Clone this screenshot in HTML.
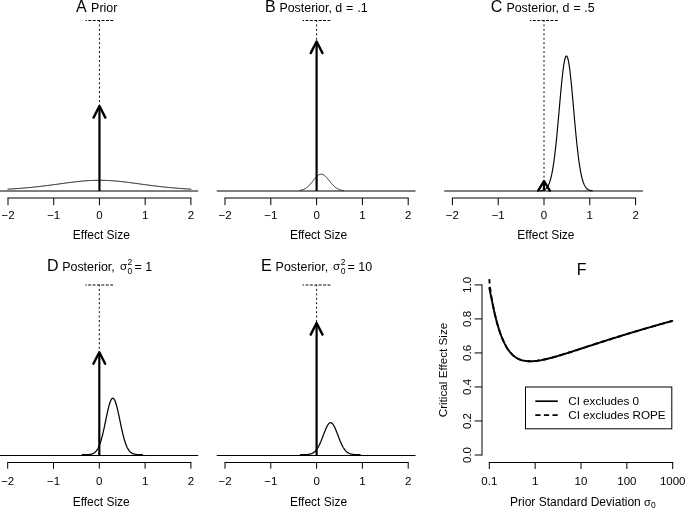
<!DOCTYPE html>
<html><head><meta charset="utf-8"><style>
html,body{margin:0;padding:0;background:#fff;}
body{width:685px;height:508px;overflow:hidden;font-family:"Liberation Sans",sans-serif;}
svg{display:block;will-change:transform;}
</style></head><body>
<svg width="685" height="508" viewBox="0 0 685 508" font-family="Liberation Sans, sans-serif" fill="#000">
<line x1="-0.22" y1="191" x2="198.21" y2="191" stroke="#000" stroke-width="1" stroke-linecap="butt"/>
<line x1="8.01" y1="198" x2="190.89" y2="198" stroke="#000" stroke-width="1" stroke-linecap="square"/>
<line x1="8.01" y1="198" x2="8.01" y2="205.2" stroke="#000" stroke-width="1" stroke-linecap="butt"/>
<text x="8.01" y="218.9" font-size="11.5" text-anchor="middle">−2</text>
<line x1="53.73" y1="198" x2="53.73" y2="205.2" stroke="#000" stroke-width="1" stroke-linecap="butt"/>
<text x="53.73" y="218.9" font-size="11.5" text-anchor="middle">−1</text>
<line x1="99.45" y1="198" x2="99.45" y2="205.2" stroke="#000" stroke-width="1" stroke-linecap="butt"/>
<text x="99.45" y="218.9" font-size="11.5" text-anchor="middle">0</text>
<line x1="145.17" y1="198" x2="145.17" y2="205.2" stroke="#000" stroke-width="1" stroke-linecap="butt"/>
<text x="145.17" y="218.9" font-size="11.5" text-anchor="middle">1</text>
<line x1="190.89" y1="198" x2="190.89" y2="205.2" stroke="#000" stroke-width="1" stroke-linecap="butt"/>
<text x="190.89" y="218.9" font-size="11.5" text-anchor="middle">2</text>
<text x="101.35" y="238.6" font-size="12" text-anchor="middle">Effect Size</text>
<path d="M8.01,189.15 L8.47,189.12 L8.92,189.1 L9.38,189.07 L9.84,189.04 L10.3,189.02 L10.75,188.99 L11.21,188.96 L11.67,188.93 L12.12,188.9 L12.58,188.88 L13.04,188.85 L13.5,188.82 L13.95,188.79 L14.41,188.76 L14.87,188.73 L15.33,188.69 L15.78,188.66 L16.24,188.63 L16.7,188.6 L17.15,188.57 L17.61,188.53 L18.07,188.5 L18.53,188.47 L18.98,188.43 L19.44,188.4 L19.9,188.36 L20.35,188.33 L20.81,188.29 L21.27,188.26 L21.73,188.22 L22.18,188.18 L22.64,188.15 L23.1,188.11 L23.55,188.07 L24.01,188.03 L24.47,187.99 L24.93,187.96 L25.38,187.92 L25.84,187.88 L26.3,187.84 L26.76,187.79 L27.21,187.75 L27.67,187.71 L28.13,187.67 L28.58,187.63 L29.04,187.58 L29.5,187.54 L29.96,187.5 L30.41,187.45 L30.87,187.41 L31.33,187.36 L31.78,187.32 L32.24,187.27 L32.7,187.22 L33.16,187.18 L33.61,187.13 L34.07,187.08 L34.53,187.03 L34.98,186.99 L35.44,186.94 L35.9,186.89 L36.36,186.84 L36.81,186.79 L37.27,186.74 L37.73,186.69 L38.19,186.63 L38.64,186.58 L39.1,186.53 L39.56,186.48 L40.01,186.43 L40.47,186.37 L40.93,186.32 L41.39,186.26 L41.84,186.21 L42.3,186.16 L42.76,186.1 L43.21,186.04 L43.67,185.99 L44.13,185.93 L44.59,185.88 L45.04,185.82 L45.5,185.76 L45.96,185.7 L46.41,185.65 L46.87,185.59 L47.33,185.53 L47.79,185.47 L48.24,185.41 L48.7,185.35 L49.16,185.29 L49.62,185.23 L50.07,185.17 L50.53,185.11 L50.99,185.05 L51.44,184.99 L51.9,184.93 L52.36,184.87 L52.82,184.81 L53.27,184.75 L53.73,184.69 L54.19,184.62 L54.64,184.56 L55.1,184.5 L55.56,184.44 L56.02,184.37 L56.47,184.31 L56.93,184.25 L57.39,184.19 L57.84,184.12 L58.3,184.06 L58.76,184 L59.22,183.94 L59.67,183.87 L60.13,183.81 L60.59,183.75 L61.05,183.68 L61.5,183.62 L61.96,183.56 L62.42,183.5 L62.87,183.43 L63.33,183.37 L63.79,183.31 L64.25,183.25 L64.7,183.18 L65.16,183.12 L65.62,183.06 L66.07,183 L66.53,182.94 L66.99,182.88 L67.45,182.82 L67.9,182.76 L68.36,182.7 L68.82,182.64 L69.27,182.58 L69.73,182.52 L70.19,182.46 L70.65,182.4 L71.1,182.35 L71.56,182.29 L72.02,182.23 L72.48,182.18 L72.93,182.12 L73.39,182.06 L73.85,182.01 L74.3,181.96 L74.76,181.9 L75.22,181.85 L75.68,181.8 L76.13,181.74 L76.59,181.69 L77.05,181.64 L77.5,181.59 L77.96,181.54 L78.42,181.49 L78.88,181.45 L79.33,181.4 L79.79,181.35 L80.25,181.31 L80.7,181.26 L81.16,181.22 L81.62,181.18 L82.08,181.13 L82.53,181.09 L82.99,181.05 L83.45,181.01 L83.91,180.98 L84.36,180.94 L84.82,180.9 L85.28,180.87 L85.73,180.83 L86.19,180.8 L86.65,180.76 L87.11,180.73 L87.56,180.7 L88.02,180.67 L88.48,180.64 L88.93,180.62 L89.39,180.59 L89.85,180.56 L90.31,180.54 L90.76,180.52 L91.22,180.49 L91.68,180.47 L92.13,180.45 L92.59,180.44 L93.05,180.42 L93.51,180.4 L93.96,180.39 L94.42,180.37 L94.88,180.36 L95.34,180.35 L95.79,180.34 L96.25,180.33 L96.71,180.32 L97.16,180.32 L97.62,180.31 L98.08,180.31 L98.54,180.3 L98.99,180.3 L99.45,180.3 L99.91,180.3 L100.36,180.3 L100.82,180.31 L101.28,180.31 L101.74,180.32 L102.19,180.32 L102.65,180.33 L103.11,180.34 L103.56,180.35 L104.02,180.36 L104.48,180.37 L104.94,180.39 L105.39,180.4 L105.85,180.42 L106.31,180.44 L106.77,180.45 L107.22,180.47 L107.68,180.49 L108.14,180.52 L108.59,180.54 L109.05,180.56 L109.51,180.59 L109.97,180.62 L110.42,180.64 L110.88,180.67 L111.34,180.7 L111.79,180.73 L112.25,180.76 L112.71,180.8 L113.17,180.83 L113.62,180.87 L114.08,180.9 L114.54,180.94 L114.99,180.98 L115.45,181.01 L115.91,181.05 L116.37,181.09 L116.82,181.13 L117.28,181.18 L117.74,181.22 L118.2,181.26 L118.65,181.31 L119.11,181.35 L119.57,181.4 L120.02,181.45 L120.48,181.49 L120.94,181.54 L121.4,181.59 L121.85,181.64 L122.31,181.69 L122.77,181.74 L123.22,181.8 L123.68,181.85 L124.14,181.9 L124.6,181.96 L125.05,182.01 L125.51,182.06 L125.97,182.12 L126.42,182.18 L126.88,182.23 L127.34,182.29 L127.8,182.35 L128.25,182.4 L128.71,182.46 L129.17,182.52 L129.63,182.58 L130.08,182.64 L130.54,182.7 L131,182.76 L131.45,182.82 L131.91,182.88 L132.37,182.94 L132.83,183 L133.28,183.06 L133.74,183.12 L134.2,183.18 L134.65,183.25 L135.11,183.31 L135.57,183.37 L136.03,183.43 L136.48,183.5 L136.94,183.56 L137.4,183.62 L137.85,183.68 L138.31,183.75 L138.77,183.81 L139.23,183.87 L139.68,183.94 L140.14,184 L140.6,184.06 L141.06,184.12 L141.51,184.19 L141.97,184.25 L142.43,184.31 L142.88,184.37 L143.34,184.44 L143.8,184.5 L144.26,184.56 L144.71,184.62 L145.17,184.69 L145.63,184.75 L146.08,184.81 L146.54,184.87 L147,184.93 L147.46,184.99 L147.91,185.05 L148.37,185.11 L148.83,185.17 L149.28,185.23 L149.74,185.29 L150.2,185.35 L150.66,185.41 L151.11,185.47 L151.57,185.53 L152.03,185.59 L152.49,185.65 L152.94,185.7 L153.4,185.76 L153.86,185.82 L154.31,185.88 L154.77,185.93 L155.23,185.99 L155.69,186.04 L156.14,186.1 L156.6,186.16 L157.06,186.21 L157.51,186.26 L157.97,186.32 L158.43,186.37 L158.89,186.43 L159.34,186.48 L159.8,186.53 L160.26,186.58 L160.71,186.63 L161.17,186.69 L161.63,186.74 L162.09,186.79 L162.54,186.84 L163,186.89 L163.46,186.94 L163.92,186.99 L164.37,187.03 L164.83,187.08 L165.29,187.13 L165.74,187.18 L166.2,187.22 L166.66,187.27 L167.12,187.32 L167.57,187.36 L168.03,187.41 L168.49,187.45 L168.94,187.5 L169.4,187.54 L169.86,187.58 L170.32,187.63 L170.77,187.67 L171.23,187.71 L171.69,187.75 L172.14,187.79 L172.6,187.84 L173.06,187.88 L173.52,187.92 L173.97,187.96 L174.43,187.99 L174.89,188.03 L175.35,188.07 L175.8,188.11 L176.26,188.15 L176.72,188.18 L177.17,188.22 L177.63,188.26 L178.09,188.29 L178.55,188.33 L179,188.36 L179.46,188.4 L179.92,188.43 L180.37,188.47 L180.83,188.5 L181.29,188.53 L181.75,188.57 L182.2,188.6 L182.66,188.63 L183.12,188.66 L183.57,188.69 L184.03,188.73 L184.49,188.76 L184.95,188.79 L185.4,188.82 L185.86,188.85 L186.32,188.88 L186.78,188.9 L187.23,188.93 L187.69,188.96 L188.15,188.99 L188.6,189.02 L189.06,189.04 L189.52,189.07 L189.98,189.1 L190.43,189.12 L190.89,189.15" fill="none" stroke="#000" stroke-width="1" stroke-linejoin="round" stroke-linecap="round"/>
<line x1="99.45" y1="20.5" x2="99.45" y2="105.8" stroke="#000" stroke-width="1" stroke-dasharray="1.9 2.55" stroke-dashoffset="0.5"/>
<line x1="113.25" y1="20.5" x2="85.55" y2="20.5" stroke="#000" stroke-width="1" stroke-linecap="butt" stroke-dasharray="2.9 1.5"/>
<line x1="99.45" y1="191" x2="99.45" y2="106.3" stroke="#000" stroke-width="2.2" stroke-linecap="butt"/>
<path d="M93.55,117.6 L99.45,106 L105.35,117.6" fill="none" stroke="#000" stroke-width="2.4" stroke-linejoin="round" stroke-linecap="round"/>
<line x1="216.76" y1="191" x2="415.53" y2="191" stroke="#000" stroke-width="1" stroke-linecap="butt"/>
<line x1="225" y1="198" x2="408.2" y2="198" stroke="#000" stroke-width="1" stroke-linecap="square"/>
<line x1="225" y1="198" x2="225" y2="205.2" stroke="#000" stroke-width="1" stroke-linecap="butt"/>
<text x="225" y="218.9" font-size="11.5" text-anchor="middle">−2</text>
<line x1="270.8" y1="198" x2="270.8" y2="205.2" stroke="#000" stroke-width="1" stroke-linecap="butt"/>
<text x="270.8" y="218.9" font-size="11.5" text-anchor="middle">−1</text>
<line x1="316.6" y1="198" x2="316.6" y2="205.2" stroke="#000" stroke-width="1" stroke-linecap="butt"/>
<text x="316.6" y="218.9" font-size="11.5" text-anchor="middle">0</text>
<line x1="362.4" y1="198" x2="362.4" y2="205.2" stroke="#000" stroke-width="1" stroke-linecap="butt"/>
<text x="362.4" y="218.9" font-size="11.5" text-anchor="middle">1</text>
<line x1="408.2" y1="198" x2="408.2" y2="205.2" stroke="#000" stroke-width="1" stroke-linecap="butt"/>
<text x="408.2" y="218.9" font-size="11.5" text-anchor="middle">2</text>
<text x="318.5" y="238.6" font-size="12" text-anchor="middle">Effect Size</text>
<path d="M300.1,190.41 L300.21,190.39 L300.32,190.36 L300.42,190.34 L300.53,190.32 L300.64,190.3 L300.75,190.27 L300.86,190.25 L300.97,190.22 L301.07,190.2 L301.18,190.17 L301.29,190.14 L301.4,190.12 L301.51,190.09 L301.62,190.06 L301.72,190.03 L301.83,189.99 L301.94,189.96 L302.05,189.93 L302.16,189.9 L302.27,189.86 L302.37,189.83 L302.48,189.79 L302.59,189.75 L302.7,189.71 L302.81,189.67 L302.91,189.63 L303.02,189.59 L303.13,189.55 L303.24,189.51 L303.35,189.46 L303.46,189.42 L303.56,189.37 L303.67,189.33 L303.78,189.28 L303.89,189.23 L304,189.18 L304.11,189.13 L304.21,189.07 L304.32,189.02 L304.43,188.96 L304.54,188.91 L304.65,188.85 L304.75,188.79 L304.86,188.73 L304.97,188.67 L305.08,188.61 L305.19,188.55 L305.3,188.48 L305.4,188.42 L305.51,188.35 L305.62,188.28 L305.73,188.21 L305.84,188.14 L305.95,188.07 L306.05,188 L306.16,187.92 L306.27,187.85 L306.38,187.77 L306.49,187.69 L306.6,187.61 L306.7,187.53 L306.81,187.45 L306.92,187.36 L307.03,187.28 L307.14,187.19 L307.24,187.1 L307.35,187.01 L307.46,186.92 L307.57,186.83 L307.68,186.74 L307.79,186.64 L307.89,186.55 L308,186.45 L308.11,186.35 L308.22,186.25 L308.33,186.15 L308.44,186.05 L308.54,185.95 L308.65,185.84 L308.76,185.74 L308.87,185.63 L308.98,185.52 L309.08,185.41 L309.19,185.3 L309.3,185.19 L309.41,185.08 L309.52,184.96 L309.63,184.85 L309.73,184.73 L309.84,184.61 L309.95,184.49 L310.06,184.37 L310.17,184.25 L310.28,184.13 L310.38,184.01 L310.49,183.89 L310.6,183.76 L310.71,183.64 L310.82,183.51 L310.93,183.38 L311.03,183.26 L311.14,183.13 L311.25,183 L311.36,182.87 L311.47,182.74 L311.57,182.61 L311.68,182.48 L311.79,182.34 L311.9,182.21 L312.01,182.08 L312.12,181.95 L312.22,181.81 L312.33,181.68 L312.44,181.54 L312.55,181.41 L312.66,181.27 L312.77,181.14 L312.87,181 L312.98,180.87 L313.09,180.73 L313.2,180.6 L313.31,180.46 L313.41,180.33 L313.52,180.19 L313.63,180.06 L313.74,179.92 L313.85,179.79 L313.96,179.66 L314.06,179.52 L314.17,179.39 L314.28,179.26 L314.39,179.13 L314.5,178.99 L314.61,178.86 L314.71,178.73 L314.82,178.61 L314.93,178.48 L315.04,178.35 L315.15,178.22 L315.25,178.1 L315.36,177.98 L315.47,177.85 L315.58,177.73 L315.69,177.61 L315.8,177.49 L315.9,177.37 L316.01,177.26 L316.12,177.14 L316.23,177.03 L316.34,176.92 L316.45,176.81 L316.55,176.7 L316.66,176.59 L316.77,176.49 L316.88,176.38 L316.99,176.28 L317.1,176.18 L317.2,176.08 L317.31,175.99 L317.42,175.9 L317.53,175.8 L317.64,175.71 L317.74,175.63 L317.85,175.54 L317.96,175.46 L318.07,175.38 L318.18,175.3 L318.29,175.23 L318.39,175.15 L318.5,175.08 L318.61,175.01 L318.72,174.95 L318.83,174.89 L318.94,174.82 L319.04,174.77 L319.15,174.71 L319.26,174.66 L319.37,174.61 L319.48,174.56 L319.58,174.52 L319.69,174.48 L319.8,174.44 L319.91,174.4 L320.02,174.37 L320.13,174.34 L320.23,174.31 L320.34,174.29 L320.45,174.27 L320.56,174.25 L320.67,174.23 L320.78,174.22 L320.88,174.21 L320.99,174.2 L321.1,174.2 L321.21,174.2 L321.32,174.2 L321.43,174.21 L321.53,174.22 L321.64,174.23 L321.75,174.24 L321.86,174.26 L321.97,174.28 L322.07,174.3 L322.18,174.33 L322.29,174.36 L322.4,174.39 L322.51,174.42 L322.62,174.46 L322.72,174.5 L322.83,174.54 L322.94,174.59 L323.05,174.64 L323.16,174.69 L323.27,174.74 L323.37,174.8 L323.48,174.86 L323.59,174.92 L323.7,174.98 L323.81,175.05 L323.92,175.12 L324.02,175.19 L324.13,175.27 L324.24,175.34 L324.35,175.42 L324.46,175.5 L324.56,175.59 L324.67,175.67 L324.78,175.76 L324.89,175.85 L325,175.94 L325.11,176.04 L325.21,176.14 L325.32,176.23 L325.43,176.34 L325.54,176.44 L325.65,176.54 L325.76,176.65 L325.86,176.76 L325.97,176.87 L326.08,176.98 L326.19,177.09 L326.3,177.2 L326.4,177.32 L326.51,177.44 L326.62,177.55 L326.73,177.67 L326.84,177.8 L326.95,177.92 L327.05,178.04 L327.16,178.17 L327.27,178.29 L327.38,178.42 L327.49,178.55 L327.6,178.67 L327.7,178.8 L327.81,178.93 L327.92,179.06 L328.03,179.19 L328.14,179.33 L328.25,179.46 L328.35,179.59 L328.46,179.73 L328.57,179.86 L328.68,179.99 L328.79,180.13 L328.89,180.26 L329,180.4 L329.11,180.53 L329.22,180.67 L329.33,180.8 L329.44,180.94 L329.54,181.07 L329.65,181.21 L329.76,181.34 L329.87,181.48 L329.98,181.61 L330.09,181.75 L330.19,181.88 L330.3,182.02 L330.41,182.15 L330.52,182.28 L330.63,182.41 L330.73,182.55 L330.84,182.68 L330.95,182.81 L331.06,182.94 L331.17,183.07 L331.28,183.2 L331.38,183.32 L331.49,183.45 L331.6,183.58 L331.71,183.7 L331.82,183.83 L331.93,183.95 L332.03,184.08 L332.14,184.2 L332.25,184.32 L332.36,184.44 L332.47,184.56 L332.57,184.67 L332.68,184.79 L332.79,184.91 L332.9,185.02 L333.01,185.14 L333.12,185.25 L333.22,185.36 L333.33,185.47 L333.44,185.58 L333.55,185.69 L333.66,185.79 L333.77,185.9 L333.87,186 L333.98,186.1 L334.09,186.21 L334.2,186.31 L334.31,186.4 L334.42,186.5 L334.52,186.6 L334.63,186.69 L334.74,186.79 L334.85,186.88 L334.96,186.97 L335.06,187.06 L335.17,187.15 L335.28,187.24 L335.39,187.32 L335.5,187.41 L335.61,187.49 L335.71,187.57 L335.82,187.65 L335.93,187.73 L336.04,187.81 L336.15,187.89 L336.26,187.96 L336.36,188.03 L336.47,188.11 L336.58,188.18 L336.69,188.25 L336.8,188.32 L336.9,188.39 L337.01,188.45 L337.12,188.52 L337.23,188.58 L337.34,188.64 L337.45,188.7 L337.55,188.76 L337.66,188.82 L337.77,188.88 L337.88,188.94 L337.99,188.99 L338.1,189.05 L338.2,189.1 L338.31,189.15 L338.42,189.2 L338.53,189.25 L338.64,189.3 L338.75,189.35 L338.85,189.4 L338.96,189.44 L339.07,189.49 L339.18,189.53 L339.29,189.57 L339.39,189.62 L339.5,189.66 L339.61,189.7 L339.72,189.73 L339.83,189.77 L339.94,189.81 L340.04,189.84 L340.15,189.88 L340.26,189.91 L340.37,189.95 L340.48,189.98 L340.59,190.01 L340.69,190.04 L340.8,190.07 L340.91,190.1 L341.02,190.13 L341.13,190.16 L341.23,190.18 L341.34,190.21 L341.45,190.24 L341.56,190.26 L341.67,190.29 L341.78,190.31 L341.88,190.33 L341.99,190.35 L342.1,190.38 L342.21,190.4 L342.32,190.42 L342.43,190.44 L342.53,190.46 L342.64,190.47 L342.75,190.49 L342.86,190.51 L342.97,190.53 L343.08,190.54 L343.18,190.56 L343.29,190.58 L343.4,190.59" fill="none" stroke="#000" stroke-width="1" stroke-linejoin="round" stroke-linecap="round"/>
<line x1="316.6" y1="20.5" x2="316.6" y2="41.3" stroke="#000" stroke-width="1" stroke-dasharray="1.9 2.55" stroke-dashoffset="0.5"/>
<line x1="330.4" y1="20.5" x2="302.7" y2="20.5" stroke="#000" stroke-width="1" stroke-linecap="butt" stroke-dasharray="2.9 1.5"/>
<line x1="316.6" y1="191" x2="316.6" y2="41.8" stroke="#000" stroke-width="2.2" stroke-linecap="butt"/>
<path d="M310.7,53.1 L316.6,41.5 L322.5,53.1" fill="none" stroke="#000" stroke-width="2.4" stroke-linejoin="round" stroke-linecap="round"/>
<line x1="444.16" y1="191" x2="642.93" y2="191" stroke="#000" stroke-width="1" stroke-linecap="butt"/>
<line x1="452.4" y1="198" x2="635.6" y2="198" stroke="#000" stroke-width="1" stroke-linecap="square"/>
<line x1="452.4" y1="198" x2="452.4" y2="205.2" stroke="#000" stroke-width="1" stroke-linecap="butt"/>
<text x="452.4" y="218.9" font-size="11.5" text-anchor="middle">−2</text>
<line x1="498.2" y1="198" x2="498.2" y2="205.2" stroke="#000" stroke-width="1" stroke-linecap="butt"/>
<text x="498.2" y="218.9" font-size="11.5" text-anchor="middle">−1</text>
<line x1="544" y1="198" x2="544" y2="205.2" stroke="#000" stroke-width="1" stroke-linecap="butt"/>
<text x="544" y="218.9" font-size="11.5" text-anchor="middle">0</text>
<line x1="589.8" y1="198" x2="589.8" y2="205.2" stroke="#000" stroke-width="1" stroke-linecap="butt"/>
<text x="589.8" y="218.9" font-size="11.5" text-anchor="middle">1</text>
<line x1="635.6" y1="198" x2="635.6" y2="205.2" stroke="#000" stroke-width="1" stroke-linecap="butt"/>
<text x="635.6" y="218.9" font-size="11.5" text-anchor="middle">2</text>
<text x="545.9" y="238.6" font-size="12" text-anchor="middle">Effect Size</text>
<path d="M540.5,190.8 L540.63,190.79 L540.76,190.77 L540.89,190.76 L541.02,190.74 L541.15,190.72 L541.28,190.7 L541.41,190.69 L541.54,190.66 L541.67,190.64 L541.79,190.62 L541.92,190.6 L542.05,190.57 L542.18,190.54 L542.31,190.52 L542.44,190.49 L542.57,190.45 L542.7,190.42 L542.83,190.38 L542.96,190.35 L543.09,190.31 L543.22,190.27 L543.35,190.22 L543.48,190.18 L543.61,190.13 L543.74,190.08 L543.87,190.02 L544,189.97 L544.13,189.91 L544.26,189.84 L544.38,189.78 L544.51,189.71 L544.64,189.64 L544.77,189.56 L544.9,189.48 L545.03,189.4 L545.16,189.31 L545.29,189.22 L545.42,189.12 L545.55,189.02 L545.68,188.91 L545.81,188.8 L545.94,188.68 L546.07,188.56 L546.2,188.43 L546.33,188.3 L546.46,188.16 L546.59,188.02 L546.72,187.87 L546.85,187.71 L546.98,187.54 L547.1,187.37 L547.23,187.19 L547.36,187 L547.49,186.81 L547.62,186.61 L547.75,186.39 L547.88,186.17 L548.01,185.95 L548.14,185.71 L548.27,185.46 L548.4,185.2 L548.53,184.94 L548.66,184.66 L548.79,184.37 L548.92,184.07 L549.05,183.76 L549.18,183.44 L549.31,183.11 L549.44,182.76 L549.56,182.41 L549.69,182.04 L549.82,181.66 L549.95,181.26 L550.08,180.85 L550.21,180.43 L550.34,179.99 L550.47,179.54 L550.6,179.07 L550.73,178.59 L550.86,178.1 L550.99,177.59 L551.12,177.06 L551.25,176.52 L551.38,175.96 L551.51,175.38 L551.64,174.79 L551.77,174.18 L551.9,173.55 L552.03,172.91 L552.15,172.25 L552.28,171.57 L552.41,170.87 L552.54,170.15 L552.67,169.42 L552.8,168.66 L552.93,167.89 L553.06,167.1 L553.19,166.29 L553.32,165.46 L553.45,164.61 L553.58,163.74 L553.71,162.85 L553.84,161.95 L553.97,161.02 L554.1,160.07 L554.23,159.11 L554.36,158.12 L554.49,157.12 L554.62,156.09 L554.75,155.05 L554.87,153.99 L555,152.9 L555.13,151.8 L555.26,150.68 L555.39,149.54 L555.52,148.39 L555.65,147.21 L555.78,146.02 L555.91,144.81 L556.04,143.59 L556.17,142.34 L556.3,141.08 L556.43,139.81 L556.56,138.51 L556.69,137.21 L556.82,135.89 L556.95,134.55 L557.08,133.2 L557.21,131.84 L557.34,130.46 L557.46,129.08 L557.59,127.68 L557.72,126.27 L557.85,124.85 L557.98,123.43 L558.11,121.99 L558.24,120.55 L558.37,119.1 L558.5,117.64 L558.63,116.18 L558.76,114.71 L558.89,113.24 L559.02,111.77 L559.15,110.3 L559.28,108.82 L559.41,107.35 L559.54,105.87 L559.67,104.4 L559.8,102.93 L559.92,101.47 L560.05,100.01 L560.18,98.56 L560.31,97.11 L560.44,95.68 L560.57,94.25 L560.7,92.83 L560.83,91.43 L560.96,90.04 L561.09,88.66 L561.22,87.29 L561.35,85.94 L561.48,84.61 L561.61,83.3 L561.74,82.01 L561.87,80.73 L562,79.48 L562.13,78.25 L562.26,77.04 L562.39,75.86 L562.51,74.7 L562.64,73.57 L562.77,72.47 L562.9,71.4 L563.03,70.35 L563.16,69.34 L563.29,68.35 L563.42,67.4 L563.55,66.48 L563.68,65.6 L563.81,64.75 L563.94,63.93 L564.07,63.15 L564.2,62.41 L564.33,61.71 L564.46,61.04 L564.59,60.42 L564.72,59.83 L564.85,59.28 L564.98,58.78 L565.11,58.31 L565.23,57.89 L565.36,57.51 L565.49,57.17 L565.62,56.87 L565.75,56.62 L565.88,56.41 L566.01,56.24 L566.14,56.12 L566.27,56.04 L566.4,56 L566.53,56.01 L566.66,56.06 L566.79,56.16 L566.92,56.3 L567.05,56.48 L567.18,56.7 L567.31,56.97 L567.44,57.28 L567.57,57.64 L567.69,58.03 L567.82,58.47 L567.95,58.95 L568.08,59.47 L568.21,60.03 L568.34,60.63 L568.47,61.27 L568.6,61.95 L568.73,62.67 L568.86,63.42 L568.99,64.22 L569.12,65.04 L569.25,65.9 L569.38,66.8 L569.51,67.73 L569.64,68.69 L569.77,69.69 L569.9,70.71 L570.03,71.77 L570.16,72.85 L570.28,73.97 L570.41,75.11 L570.54,76.27 L570.67,77.46 L570.8,78.68 L570.93,79.92 L571.06,81.18 L571.19,82.46 L571.32,83.76 L571.45,85.08 L571.58,86.42 L571.71,87.77 L571.84,89.14 L571.97,90.52 L572.1,91.92 L572.23,93.33 L572.36,94.75 L572.49,96.18 L572.62,97.62 L572.75,99.07 L572.88,100.52 L573,101.98 L573.13,103.45 L573.26,104.92 L573.39,106.39 L573.52,107.86 L573.65,109.34 L573.78,110.81 L573.91,112.29 L574.04,113.76 L574.17,115.23 L574.3,116.69 L574.43,118.15 L574.56,119.61 L574.69,121.05 L574.82,122.49 L574.95,123.93 L575.08,125.35 L575.21,126.77 L575.34,128.17 L575.46,129.57 L575.59,130.95 L575.72,132.32 L575.85,133.68 L575.98,135.02 L576.11,136.35 L576.24,137.67 L576.37,138.97 L576.5,140.26 L576.63,141.53 L576.76,142.78 L576.89,144.02 L577.02,145.24 L577.15,146.44 L577.28,147.63 L577.41,148.8 L577.54,149.95 L577.67,151.08 L577.8,152.19 L577.93,153.29 L578.05,154.36 L578.18,155.42 L578.31,156.45 L578.44,157.47 L578.57,158.47 L578.7,159.45 L578.83,160.41 L578.96,161.35 L579.09,162.27 L579.22,163.17 L579.35,164.05 L579.48,164.91 L579.61,165.75 L579.74,166.58 L579.87,167.38 L580,168.16 L580.13,168.93 L580.26,169.68 L580.39,170.41 L580.52,171.12 L580.64,171.81 L580.77,172.48 L580.9,173.14 L581.03,173.78 L581.16,174.4 L581.29,175 L581.42,175.59 L581.55,176.16 L581.68,176.71 L581.81,177.25 L581.94,177.77 L582.07,178.27 L582.2,178.76 L582.33,179.24 L582.46,179.7 L582.59,180.15 L582.72,180.58 L582.85,181 L582.98,181.4 L583.11,181.79 L583.23,182.17 L583.36,182.53 L583.49,182.89 L583.62,183.23 L583.75,183.56 L583.88,183.87 L584.01,184.18 L584.14,184.47 L584.27,184.76 L584.4,185.03 L584.53,185.29 L584.66,185.55 L584.79,185.79 L584.92,186.03 L585.05,186.25 L585.18,186.47 L585.31,186.68 L585.44,186.88 L585.57,187.07 L585.7,187.25 L585.82,187.43 L585.95,187.6 L586.08,187.76 L586.21,187.92 L586.34,188.07 L586.47,188.21 L586.6,188.35 L586.73,188.48 L586.86,188.6 L586.99,188.72 L587.12,188.84 L587.25,188.95 L587.38,189.05 L587.51,189.15 L587.64,189.25 L587.77,189.34 L587.9,189.43 L588.03,189.51 L588.16,189.59 L588.29,189.66 L588.41,189.73 L588.54,189.8 L588.67,189.87 L588.8,189.93 L588.93,189.99 L589.06,190.04 L589.19,190.09 L589.32,190.15 L589.45,190.19 L589.58,190.24 L589.71,190.28 L589.84,190.32 L589.97,190.36 L590.1,190.4 L590.23,190.43 L590.36,190.47 L590.49,190.5 L590.62,190.53 L590.75,190.55 L590.88,190.58 L591,190.61 L591.13,190.63 L591.26,190.65 L591.39,190.67 L591.52,190.69 L591.65,190.71 L591.78,190.73 L591.91,190.75 L592.04,190.76 L592.17,190.78 L592.3,190.79" fill="none" stroke="#000" stroke-width="1.15" stroke-linejoin="round" stroke-linecap="round"/>
<line x1="544" y1="20.5" x2="544" y2="180.8" stroke="#000" stroke-width="1" stroke-dasharray="1.9 2.55" stroke-dashoffset="0.5"/>
<line x1="557.8" y1="20.5" x2="530.1" y2="20.5" stroke="#000" stroke-width="1" stroke-linecap="butt" stroke-dasharray="2.9 1.5"/>
<line x1="544" y1="191" x2="544" y2="181.3" stroke="#000" stroke-width="2.2" stroke-linecap="butt"/>
<path d="M538.2,190.6 L544,181 L549.8,190.6" fill="none" stroke="#000" stroke-width="2.4" stroke-linejoin="round" stroke-linecap="round"/>
<line x1="-0.54" y1="455.5" x2="198.23" y2="455.5" stroke="#000" stroke-width="1" stroke-linecap="butt"/>
<line x1="7.7" y1="462.5" x2="190.9" y2="462.5" stroke="#000" stroke-width="1" stroke-linecap="square"/>
<line x1="7.7" y1="462.5" x2="7.7" y2="468.7" stroke="#000" stroke-width="1" stroke-linecap="butt"/>
<text x="7.7" y="485.4" font-size="11.5" text-anchor="middle">−2</text>
<line x1="53.5" y1="462.5" x2="53.5" y2="468.7" stroke="#000" stroke-width="1" stroke-linecap="butt"/>
<text x="53.5" y="485.4" font-size="11.5" text-anchor="middle">−1</text>
<line x1="99.3" y1="462.5" x2="99.3" y2="468.7" stroke="#000" stroke-width="1" stroke-linecap="butt"/>
<text x="99.3" y="485.4" font-size="11.5" text-anchor="middle">0</text>
<line x1="145.1" y1="462.5" x2="145.1" y2="468.7" stroke="#000" stroke-width="1" stroke-linecap="butt"/>
<text x="145.1" y="485.4" font-size="11.5" text-anchor="middle">1</text>
<line x1="190.9" y1="462.5" x2="190.9" y2="468.7" stroke="#000" stroke-width="1" stroke-linecap="butt"/>
<text x="190.9" y="485.4" font-size="11.5" text-anchor="middle">2</text>
<text x="101.2" y="506.4" font-size="12" text-anchor="middle">Effect Size</text>
<path d="M82.3,454.69 L82.45,454.69 L82.6,454.69 L82.75,454.69 L82.9,454.69 L83.05,454.69 L83.2,454.69 L83.35,454.69 L83.5,454.69 L83.65,454.69 L83.8,454.69 L83.95,454.69 L84.1,454.68 L84.25,454.68 L84.4,454.68 L84.55,454.68 L84.7,454.68 L84.85,454.68 L85,454.67 L85.15,454.67 L85.31,454.67 L85.46,454.67 L85.61,454.66 L85.76,454.66 L85.91,454.66 L86.06,454.65 L86.21,454.65 L86.36,454.65 L86.51,454.64 L86.66,454.64 L86.81,454.63 L86.96,454.63 L87.11,454.62 L87.26,454.61 L87.41,454.61 L87.56,454.6 L87.71,454.59 L87.86,454.58 L88.01,454.57 L88.16,454.56 L88.31,454.55 L88.46,454.54 L88.61,454.53 L88.76,454.52 L88.91,454.5 L89.06,454.49 L89.21,454.47 L89.36,454.46 L89.51,454.44 L89.66,454.42 L89.81,454.4 L89.96,454.38 L90.11,454.36 L90.26,454.34 L90.41,454.31 L90.56,454.28 L90.71,454.26 L90.86,454.23 L91.01,454.19 L91.16,454.16 L91.31,454.12 L91.47,454.09 L91.62,454.04 L91.77,454 L91.92,453.96 L92.07,453.91 L92.22,453.86 L92.37,453.81 L92.52,453.75 L92.67,453.69 L92.82,453.63 L92.97,453.56 L93.12,453.49 L93.27,453.42 L93.42,453.35 L93.57,453.27 L93.72,453.18 L93.87,453.09 L94.02,453 L94.17,452.9 L94.32,452.8 L94.47,452.69 L94.62,452.58 L94.77,452.46 L94.92,452.34 L95.07,452.21 L95.22,452.08 L95.37,451.94 L95.52,451.79 L95.67,451.64 L95.82,451.48 L95.97,451.31 L96.12,451.13 L96.27,450.95 L96.42,450.77 L96.57,450.57 L96.72,450.37 L96.87,450.15 L97.02,449.93 L97.17,449.7 L97.33,449.47 L97.48,449.22 L97.63,448.97 L97.78,448.7 L97.93,448.43 L98.08,448.15 L98.23,447.85 L98.38,447.55 L98.53,447.24 L98.68,446.91 L98.83,446.58 L98.98,446.24 L99.13,445.88 L99.28,445.52 L99.43,445.14 L99.58,444.76 L99.73,444.36 L99.88,443.95 L100.03,443.53 L100.18,443.1 L100.33,442.65 L100.48,442.2 L100.63,441.74 L100.78,441.26 L100.93,440.77 L101.08,440.27 L101.23,439.76 L101.38,439.24 L101.53,438.71 L101.68,438.17 L101.83,437.61 L101.98,437.05 L102.13,436.47 L102.28,435.89 L102.43,435.29 L102.58,434.68 L102.73,434.07 L102.88,433.45 L103.03,432.81 L103.18,432.17 L103.34,431.52 L103.49,430.86 L103.64,430.19 L103.79,429.52 L103.94,428.84 L104.09,428.15 L104.24,427.46 L104.39,426.76 L104.54,426.05 L104.69,425.34 L104.84,424.63 L104.99,423.92 L105.14,423.2 L105.29,422.47 L105.44,421.75 L105.59,421.03 L105.74,420.3 L105.89,419.58 L106.04,418.85 L106.19,418.13 L106.34,417.41 L106.49,416.69 L106.64,415.98 L106.79,415.27 L106.94,414.56 L107.09,413.86 L107.24,413.17 L107.39,412.48 L107.54,411.8 L107.69,411.13 L107.84,410.47 L107.99,409.82 L108.14,409.18 L108.29,408.56 L108.44,407.94 L108.59,407.34 L108.74,406.75 L108.89,406.18 L109.04,405.62 L109.19,405.07 L109.34,404.55 L109.5,404.04 L109.65,403.55 L109.8,403.07 L109.95,402.62 L110.1,402.18 L110.25,401.77 L110.4,401.37 L110.55,401 L110.7,400.65 L110.85,400.32 L111,400.01 L111.15,399.73 L111.3,399.47 L111.45,399.23 L111.6,399.02 L111.75,398.83 L111.9,398.66 L112.05,398.52 L112.2,398.41 L112.35,398.32 L112.5,398.25 L112.65,398.21 L112.8,398.2 L112.95,398.21 L113.1,398.25 L113.25,398.31 L113.4,398.4 L113.55,398.51 L113.7,398.64 L113.85,398.8 L114,398.99 L114.15,399.2 L114.3,399.43 L114.45,399.69 L114.6,399.97 L114.75,400.28 L114.9,400.6 L115.05,400.95 L115.2,401.32 L115.36,401.71 L115.51,402.13 L115.66,402.56 L115.81,403.01 L115.96,403.48 L116.11,403.97 L116.26,404.48 L116.41,405 L116.56,405.54 L116.71,406.1 L116.86,406.67 L117.01,407.26 L117.16,407.86 L117.31,408.47 L117.46,409.1 L117.61,409.74 L117.76,410.38 L117.91,411.04 L118.06,411.71 L118.21,412.39 L118.36,413.07 L118.51,413.77 L118.66,414.46 L118.81,415.17 L118.96,415.88 L119.11,416.59 L119.26,417.31 L119.41,418.03 L119.56,418.75 L119.71,419.48 L119.86,420.2 L120.01,420.93 L120.16,421.65 L120.31,422.38 L120.46,423.1 L120.61,423.82 L120.76,424.53 L120.91,425.25 L121.06,425.96 L121.21,426.66 L121.37,427.36 L121.52,428.06 L121.67,428.74 L121.82,429.43 L121.97,430.1 L122.12,430.77 L122.27,431.43 L122.42,432.08 L122.57,432.72 L122.72,433.36 L122.87,433.99 L123.02,434.6 L123.17,435.21 L123.32,435.81 L123.47,436.39 L123.62,436.97 L123.77,437.53 L123.92,438.09 L124.07,438.63 L124.22,439.17 L124.37,439.69 L124.52,440.2 L124.67,440.7 L124.82,441.19 L124.97,441.67 L125.12,442.14 L125.27,442.59 L125.42,443.04 L125.57,443.47 L125.72,443.89 L125.87,444.3 L126.02,444.7 L126.17,445.09 L126.32,445.47 L126.47,445.83 L126.62,446.19 L126.77,446.53 L126.92,446.87 L127.07,447.19 L127.22,447.51 L127.38,447.81 L127.53,448.11 L127.68,448.39 L127.83,448.67 L127.98,448.93 L128.13,449.19 L128.28,449.43 L128.43,449.67 L128.58,449.9 L128.73,450.12 L128.88,450.34 L129.03,450.54 L129.18,450.74 L129.33,450.93 L129.48,451.11 L129.63,451.29 L129.78,451.45 L129.93,451.61 L130.08,451.77 L130.23,451.92 L130.38,452.06 L130.53,452.19 L130.68,452.32 L130.83,452.45 L130.98,452.56 L131.13,452.68 L131.28,452.79 L131.43,452.89 L131.58,452.99 L131.73,453.08 L131.88,453.17 L132.03,453.25 L132.18,453.34 L132.33,453.41 L132.48,453.49 L132.63,453.55 L132.78,453.62 L132.93,453.68 L133.08,453.74 L133.23,453.8 L133.38,453.85 L133.54,453.9 L133.69,453.95 L133.84,454 L133.99,454.04 L134.14,454.08 L134.29,454.12 L134.44,454.15 L134.59,454.19 L134.74,454.22 L134.89,454.25 L135.04,454.28 L135.19,454.31 L135.34,454.33 L135.49,454.36 L135.64,454.38 L135.79,454.4 L135.94,454.42 L136.09,454.44 L136.24,454.46 L136.39,454.47 L136.54,454.49 L136.69,454.5 L136.84,454.52 L136.99,454.53 L137.14,454.54 L137.29,454.55 L137.44,454.56 L137.59,454.57 L137.74,454.58 L137.89,454.59 L138.04,454.6 L138.19,454.61 L138.34,454.61 L138.49,454.62 L138.64,454.62 L138.79,454.63 L138.94,454.64 L139.09,454.64 L139.24,454.64 L139.4,454.65 L139.55,454.65 L139.7,454.66 L139.85,454.66 L140,454.66 L140.15,454.67 L140.3,454.67 L140.45,454.67 L140.6,454.67 L140.75,454.68 L140.9,454.68 L141.05,454.68 L141.2,454.68 L141.35,454.68 L141.5,454.68 L141.65,454.69 L141.8,454.69 L141.95,454.69 L142.1,454.69 L142.25,454.69 L142.4,454.69" fill="none" stroke="#000" stroke-width="1.25" stroke-linejoin="round" stroke-linecap="round"/>
<line x1="99.3" y1="285" x2="99.3" y2="352" stroke="#000" stroke-width="1" stroke-dasharray="1.9 2.55" stroke-dashoffset="0.5"/>
<line x1="113.1" y1="285" x2="85.4" y2="285" stroke="#000" stroke-width="1" stroke-linecap="butt" stroke-dasharray="2.9 1.5"/>
<line x1="99.3" y1="455.5" x2="99.3" y2="352.5" stroke="#000" stroke-width="2.2" stroke-linecap="butt"/>
<path d="M93.4,363.8 L99.3,352.2 L105.2,363.8" fill="none" stroke="#000" stroke-width="2.4" stroke-linejoin="round" stroke-linecap="round"/>
<line x1="216.76" y1="455.5" x2="415.53" y2="455.5" stroke="#000" stroke-width="1" stroke-linecap="butt"/>
<line x1="225" y1="462.5" x2="408.2" y2="462.5" stroke="#000" stroke-width="1" stroke-linecap="square"/>
<line x1="225" y1="462.5" x2="225" y2="468.7" stroke="#000" stroke-width="1" stroke-linecap="butt"/>
<text x="225" y="485.4" font-size="11.5" text-anchor="middle">−2</text>
<line x1="270.8" y1="462.5" x2="270.8" y2="468.7" stroke="#000" stroke-width="1" stroke-linecap="butt"/>
<text x="270.8" y="485.4" font-size="11.5" text-anchor="middle">−1</text>
<line x1="316.6" y1="462.5" x2="316.6" y2="468.7" stroke="#000" stroke-width="1" stroke-linecap="butt"/>
<text x="316.6" y="485.4" font-size="11.5" text-anchor="middle">0</text>
<line x1="362.4" y1="462.5" x2="362.4" y2="468.7" stroke="#000" stroke-width="1" stroke-linecap="butt"/>
<text x="362.4" y="485.4" font-size="11.5" text-anchor="middle">1</text>
<line x1="408.2" y1="462.5" x2="408.2" y2="468.7" stroke="#000" stroke-width="1" stroke-linecap="butt"/>
<text x="408.2" y="485.4" font-size="11.5" text-anchor="middle">2</text>
<text x="318.5" y="506.4" font-size="12" text-anchor="middle">Effect Size</text>
<path d="M300.5,454.69 L300.65,454.69 L300.8,454.69 L300.95,454.69 L301.1,454.69 L301.25,454.69 L301.39,454.69 L301.54,454.69 L301.69,454.69 L301.84,454.69 L301.99,454.68 L302.14,454.68 L302.29,454.68 L302.44,454.68 L302.59,454.68 L302.74,454.68 L302.88,454.68 L303.03,454.67 L303.18,454.67 L303.33,454.67 L303.48,454.67 L303.63,454.66 L303.78,454.66 L303.93,454.66 L304.08,454.65 L304.23,454.65 L304.37,454.65 L304.52,454.64 L304.67,454.64 L304.82,454.63 L304.97,454.63 L305.12,454.62 L305.27,454.62 L305.42,454.61 L305.57,454.61 L305.71,454.6 L305.86,454.59 L306.01,454.59 L306.16,454.58 L306.31,454.57 L306.46,454.56 L306.61,454.55 L306.76,454.54 L306.91,454.53 L307.06,454.52 L307.2,454.51 L307.35,454.49 L307.5,454.48 L307.65,454.46 L307.8,454.45 L307.95,454.43 L308.1,454.41 L308.25,454.4 L308.4,454.38 L308.55,454.36 L308.69,454.34 L308.84,454.31 L308.99,454.29 L309.14,454.26 L309.29,454.24 L309.44,454.21 L309.59,454.18 L309.74,454.15 L309.89,454.11 L310.04,454.08 L310.19,454.04 L310.33,454.01 L310.48,453.97 L310.63,453.92 L310.78,453.88 L310.93,453.83 L311.08,453.78 L311.23,453.73 L311.38,453.68 L311.53,453.62 L311.68,453.57 L311.82,453.51 L311.97,453.44 L312.12,453.37 L312.27,453.31 L312.42,453.23 L312.57,453.16 L312.72,453.08 L312.87,453 L313.02,452.91 L313.17,452.82 L313.31,452.73 L313.46,452.63 L313.61,452.53 L313.76,452.43 L313.91,452.32 L314.06,452.21 L314.21,452.09 L314.36,451.97 L314.51,451.84 L314.66,451.71 L314.8,451.58 L314.95,451.44 L315.1,451.3 L315.25,451.15 L315.4,450.99 L315.55,450.83 L315.7,450.67 L315.85,450.5 L316,450.33 L316.14,450.14 L316.29,449.96 L316.44,449.77 L316.59,449.57 L316.74,449.37 L316.89,449.16 L317.04,448.95 L317.19,448.73 L317.34,448.5 L317.49,448.27 L317.63,448.03 L317.78,447.79 L317.93,447.54 L318.08,447.29 L318.23,447.03 L318.38,446.76 L318.53,446.49 L318.68,446.21 L318.83,445.92 L318.98,445.63 L319.12,445.34 L319.27,445.04 L319.42,444.73 L319.57,444.42 L319.72,444.1 L319.87,443.78 L320.02,443.45 L320.17,443.12 L320.32,442.78 L320.47,442.44 L320.62,442.09 L320.76,441.74 L320.91,441.38 L321.06,441.02 L321.21,440.65 L321.36,440.29 L321.51,439.91 L321.66,439.54 L321.81,439.16 L321.96,438.78 L322.11,438.4 L322.25,438.01 L322.4,437.62 L322.55,437.23 L322.7,436.84 L322.85,436.45 L323,436.05 L323.15,435.66 L323.3,435.26 L323.45,434.87 L323.6,434.48 L323.74,434.08 L323.89,433.69 L324.04,433.3 L324.19,432.91 L324.34,432.52 L324.49,432.14 L324.64,431.75 L324.79,431.38 L324.94,431 L325.09,430.63 L325.23,430.26 L325.38,429.9 L325.53,429.54 L325.68,429.19 L325.83,428.84 L325.98,428.5 L326.13,428.17 L326.28,427.84 L326.43,427.52 L326.57,427.21 L326.72,426.91 L326.87,426.61 L327.02,426.32 L327.17,426.05 L327.32,425.78 L327.47,425.52 L327.62,425.27 L327.77,425.03 L327.92,424.8 L328.06,424.58 L328.21,424.37 L328.36,424.18 L328.51,423.99 L328.66,423.82 L328.81,423.66 L328.96,423.51 L329.11,423.37 L329.26,423.24 L329.41,423.13 L329.56,423.03 L329.7,422.95 L329.85,422.87 L330,422.81 L330.15,422.76 L330.3,422.73 L330.45,422.71 L330.6,422.7 L330.75,422.71 L330.9,422.72 L331.05,422.76 L331.19,422.8 L331.34,422.86 L331.49,422.93 L331.64,423.01 L331.79,423.11 L331.94,423.22 L332.09,423.34 L332.24,423.47 L332.39,423.62 L332.54,423.78 L332.68,423.95 L332.83,424.13 L332.98,424.33 L333.13,424.53 L333.28,424.75 L333.43,424.97 L333.58,425.21 L333.73,425.46 L333.88,425.72 L334.03,425.98 L334.17,426.26 L334.32,426.55 L334.47,426.84 L334.62,427.14 L334.77,427.45 L334.92,427.77 L335.07,428.1 L335.22,428.43 L335.37,428.77 L335.51,429.11 L335.66,429.46 L335.81,429.82 L335.96,430.18 L336.11,430.55 L336.26,430.92 L336.41,431.29 L336.56,431.67 L336.71,432.05 L336.86,432.43 L337,432.82 L337.15,433.21 L337.3,433.6 L337.45,433.99 L337.6,434.39 L337.75,434.78 L337.9,435.18 L338.05,435.57 L338.2,435.96 L338.35,436.36 L338.5,436.75 L338.64,437.14 L338.79,437.53 L338.94,437.92 L339.09,438.31 L339.24,438.69 L339.39,439.07 L339.54,439.45 L339.69,439.83 L339.84,440.2 L339.99,440.57 L340.13,440.94 L340.28,441.3 L340.43,441.66 L340.58,442.01 L340.73,442.36 L340.88,442.7 L341.03,443.04 L341.18,443.38 L341.33,443.7 L341.48,444.03 L341.62,444.35 L341.77,444.66 L341.92,444.97 L342.07,445.27 L342.22,445.57 L342.37,445.86 L342.52,446.15 L342.67,446.42 L342.82,446.7 L342.97,446.97 L343.11,447.23 L343.26,447.48 L343.41,447.74 L343.56,447.98 L343.71,448.22 L343.86,448.45 L344.01,448.68 L344.16,448.9 L344.31,449.11 L344.46,449.32 L344.6,449.53 L344.75,449.72 L344.9,449.92 L345.05,450.1 L345.2,450.28 L345.35,450.46 L345.5,450.63 L345.65,450.8 L345.8,450.96 L345.95,451.11 L346.09,451.26 L346.24,451.41 L346.39,451.55 L346.54,451.68 L346.69,451.81 L346.84,451.94 L346.99,452.06 L347.14,452.18 L347.29,452.29 L347.44,452.4 L347.58,452.51 L347.73,452.61 L347.88,452.71 L348.03,452.8 L348.18,452.89 L348.33,452.98 L348.48,453.06 L348.63,453.14 L348.78,453.22 L348.93,453.29 L349.07,453.36 L349.22,453.43 L349.37,453.49 L349.52,453.55 L349.67,453.61 L349.82,453.67 L349.97,453.72 L350.12,453.77 L350.27,453.82 L350.42,453.87 L350.56,453.91 L350.71,453.96 L350.86,454 L351.01,454.03 L351.16,454.07 L351.31,454.11 L351.46,454.14 L351.61,454.17 L351.76,454.2 L351.91,454.23 L352.05,454.26 L352.2,454.28 L352.35,454.31 L352.5,454.33 L352.65,454.35 L352.8,454.37 L352.95,454.39 L353.1,454.41 L353.25,454.43 L353.4,454.44 L353.54,454.46 L353.69,454.48 L353.84,454.49 L353.99,454.5 L354.14,454.51 L354.29,454.53 L354.44,454.54 L354.59,454.55 L354.74,454.56 L354.88,454.57 L355.03,454.58 L355.18,454.58 L355.33,454.59 L355.48,454.6 L355.63,454.61 L355.78,454.61 L355.93,454.62 L356.08,454.62 L356.23,454.63 L356.38,454.63 L356.52,454.64 L356.67,454.64 L356.82,454.65 L356.97,454.65 L357.12,454.65 L357.27,454.66 L357.42,454.66 L357.57,454.66 L357.72,454.67 L357.87,454.67 L358.01,454.67 L358.16,454.67 L358.31,454.67 L358.46,454.68 L358.61,454.68 L358.76,454.68 L358.91,454.68 L359.06,454.68 L359.21,454.68 L359.36,454.69 L359.5,454.69 L359.65,454.69 L359.8,454.69 L359.95,454.69 L360.1,454.69" fill="none" stroke="#000" stroke-width="1.25" stroke-linejoin="round" stroke-linecap="round"/>
<line x1="316.6" y1="285" x2="316.6" y2="322.8" stroke="#000" stroke-width="1" stroke-dasharray="1.9 2.55" stroke-dashoffset="0.5"/>
<line x1="330.4" y1="285" x2="302.7" y2="285" stroke="#000" stroke-width="1" stroke-linecap="butt" stroke-dasharray="2.9 1.5"/>
<line x1="316.6" y1="455.5" x2="316.6" y2="323.3" stroke="#000" stroke-width="2.2" stroke-linecap="butt"/>
<path d="M310.7,334.6 L316.6,323 L322.5,334.6" fill="none" stroke="#000" stroke-width="2.4" stroke-linejoin="round" stroke-linecap="round"/>
<text x="75.9" y="11.6" font-size="16" text-anchor="start">A</text>
<text x="91.1" y="11.6" font-size="12.45" text-anchor="start">Prior</text>
<text x="265" y="11.6" font-size="16" text-anchor="start">B</text>
<text x="279.4" y="11.6" font-size="12.45" text-anchor="start">Posterior,</text>
<text x="335.3" y="11.6" font-size="12.45" text-anchor="start">d</text>
<text x="346" y="11.6" font-size="12.45" text-anchor="start">=</text>
<text x="357.2" y="11.6" font-size="12.45" text-anchor="start">.1</text>
<text x="490.7" y="11.6" font-size="16" text-anchor="start">C</text>
<text x="506.4" y="11.6" font-size="12.45" text-anchor="start">Posterior,</text>
<text x="562.4" y="11.6" font-size="12.45" text-anchor="start">d</text>
<text x="573.6" y="11.6" font-size="12.45" text-anchor="start">=</text>
<text x="584.3" y="11.6" font-size="12.45" text-anchor="start">.5</text>
<text x="47" y="270.6" font-size="16" text-anchor="start">D</text>
<text x="62.2" y="270.6" font-size="12.45" text-anchor="start">Posterior,</text>
<text x="119.9" y="270.4" font-size="11.5" text-anchor="start">σ</text>
<text x="127.6" y="264.6" font-size="8.5" text-anchor="start">2</text>
<text x="127.6" y="274.4" font-size="8.5" text-anchor="start">0</text>
<text x="134.4" y="270.6" font-size="12.45" text-anchor="start">=</text>
<text x="145.3" y="270.6" font-size="12.45" text-anchor="start">1</text>
<text x="261" y="270.6" font-size="16" text-anchor="start">E</text>
<text x="275.6" y="270.6" font-size="12.45" text-anchor="start">Posterior,</text>
<text x="333" y="270.4" font-size="11.5" text-anchor="start">σ</text>
<text x="340.7" y="264.6" font-size="8.5" text-anchor="start">2</text>
<text x="340.7" y="274.4" font-size="8.5" text-anchor="start">0</text>
<text x="347.5" y="270.6" font-size="12.45" text-anchor="start">=</text>
<text x="358.3" y="270.6" font-size="12.45" text-anchor="start">10</text>
<text x="581.6" y="275" font-size="16" text-anchor="middle">F</text>
<line x1="482" y1="455" x2="482" y2="284.9" stroke="#000" stroke-width="1" stroke-linecap="square"/>
<line x1="482" y1="455" x2="474.6" y2="455" stroke="#000" stroke-width="1" stroke-linecap="butt"/>
<text x="0" y="0" font-size="11.5" text-anchor="middle" transform="translate(470.6,455) rotate(-90)">0.0</text>
<line x1="482" y1="420.98" x2="474.6" y2="420.98" stroke="#000" stroke-width="1" stroke-linecap="butt"/>
<text x="0" y="0" font-size="11.5" text-anchor="middle" transform="translate(470.6,420.98) rotate(-90)">0.2</text>
<line x1="482" y1="386.96" x2="474.6" y2="386.96" stroke="#000" stroke-width="1" stroke-linecap="butt"/>
<text x="0" y="0" font-size="11.5" text-anchor="middle" transform="translate(470.6,386.96) rotate(-90)">0.4</text>
<line x1="482" y1="352.94" x2="474.6" y2="352.94" stroke="#000" stroke-width="1" stroke-linecap="butt"/>
<text x="0" y="0" font-size="11.5" text-anchor="middle" transform="translate(470.6,352.94) rotate(-90)">0.6</text>
<line x1="482" y1="318.92" x2="474.6" y2="318.92" stroke="#000" stroke-width="1" stroke-linecap="butt"/>
<text x="0" y="0" font-size="11.5" text-anchor="middle" transform="translate(470.6,318.92) rotate(-90)">0.8</text>
<line x1="482" y1="284.9" x2="474.6" y2="284.9" stroke="#000" stroke-width="1" stroke-linecap="butt"/>
<text x="0" y="0" font-size="11.5" text-anchor="middle" transform="translate(470.6,284.9) rotate(-90)">1.0</text>
<line x1="489.3" y1="462.5" x2="672.7" y2="462.5" stroke="#000" stroke-width="1" stroke-linecap="square"/>
<line x1="489.3" y1="462.5" x2="489.3" y2="469" stroke="#000" stroke-width="1" stroke-linecap="butt"/>
<text x="489.3" y="485.3" font-size="11.5" text-anchor="middle">0.1</text>
<line x1="535.15" y1="462.5" x2="535.15" y2="469" stroke="#000" stroke-width="1" stroke-linecap="butt"/>
<text x="535.15" y="485.3" font-size="11.5" text-anchor="middle">1</text>
<line x1="581" y1="462.5" x2="581" y2="469" stroke="#000" stroke-width="1" stroke-linecap="butt"/>
<text x="581" y="485.3" font-size="11.5" text-anchor="middle">10</text>
<line x1="626.85" y1="462.5" x2="626.85" y2="469" stroke="#000" stroke-width="1" stroke-linecap="butt"/>
<text x="626.85" y="485.3" font-size="11.5" text-anchor="middle">100</text>
<line x1="672.7" y1="462.5" x2="672.7" y2="469" stroke="#000" stroke-width="1" stroke-linecap="butt"/>
<text x="672.7" y="485.3" font-size="11.5" text-anchor="middle">1000</text>
<text x="0" y="0" font-size="11.7" text-anchor="middle" transform="translate(446.9,370) rotate(-90)">Critical Effect Size</text>
<text x="510" y="505.9" font-size="12" text-anchor="start">Prior Standard Deviation <tspan font-size="11">σ</tspan><tspan font-size="8.5" dy="1.6">0</tspan></text>
<path d="M489.3,288 L489.39,288.42 L489.48,288.84 L489.57,289.26 L489.66,289.68 L489.75,290.1 L489.84,290.53 L489.93,290.95 L490.02,291.37 L490.11,291.8 L490.2,292.23 L490.29,292.65 L490.38,293.08 L490.47,293.51 L490.56,293.93 L490.65,294.36 L490.74,294.79 L490.83,295.22 L490.92,295.66 L491.01,296.09 L491.1,296.52 L491.19,296.96 L491.28,297.39 L491.37,297.83 L491.46,298.26 L491.55,298.7 L491.64,299.14 L491.73,299.58 L491.82,300.02 L491.91,300.46 L492,300.9 L492.09,301.35 L492.18,301.79 L492.27,302.23 L492.36,302.68 L492.45,303.13 L492.54,303.58 L492.63,304.02 L492.72,304.46 L492.81,304.91 L492.9,305.34 L492.99,305.78 L493.08,306.21 L493.17,306.64 L493.26,307.07 L493.35,307.49 L493.44,307.91 L493.53,308.33 L493.62,308.75 L493.71,309.16 L493.8,309.58 L493.89,309.99 L493.98,310.39 L494.07,310.8 L494.16,311.2 L494.25,311.6 L494.34,311.99 L494.43,312.39 L494.52,312.78 L494.61,313.17 L494.69,313.56 L494.78,313.94 L494.87,314.32 L494.96,314.7 L495.05,315.08 L495.14,315.45 L495.23,315.82 L495.32,316.19 L495.41,316.56 L495.5,316.93 L495.59,317.29 L495.68,317.65 L495.77,318.01 L495.86,318.37 L495.95,318.72 L496.04,319.07 L496.13,319.42 L496.22,319.77 L496.31,320.11 L496.4,320.45 L496.49,320.79 L496.58,321.13 L496.67,321.47 L496.76,321.8 L496.85,322.13 L496.94,322.46 L497.03,322.79 L497.12,323.11 L497.21,323.44 L497.3,323.76 L497.39,324.08 L497.48,324.39 L497.57,324.71 L497.66,325.02 L497.75,325.33 L497.84,325.64 L497.93,325.94 L498.02,326.25 L498.11,326.55 L498.2,326.85 L498.29,327.15 L498.38,327.44 L498.47,327.74 L498.56,328.03 L498.65,328.32 L498.74,328.61 L498.83,328.89 L498.92,329.18 L499.01,329.46 L499.1,329.74 L499.19,330.02 L499.28,330.29 L499.37,330.57 L499.46,330.84 L499.55,331.11 L499.64,331.38 L499.73,331.65 L499.82,331.91 L499.91,332.17 L500,332.44 L500.1,332.72 L500.79,334.66 L501.48,336.49 L502.17,338.22 L502.87,339.86 L503.56,341.41 L504.25,342.87 L504.94,344.25 L505.63,345.54 L506.32,346.76 L507.02,347.91 L507.71,348.99 L508.4,350 L509.09,350.95 L509.78,351.84 L510.47,352.67 L511.17,353.44 L511.86,354.17 L512.55,354.84 L513.24,355.47 L513.93,356.06 L514.62,356.6 L515.31,357.1 L516.01,357.56 L516.7,357.99 L517.39,358.38 L518.08,358.74 L518.77,359.07 L519.46,359.38 L520.16,359.65 L520.85,359.9 L521.54,360.12 L522.23,360.32 L522.92,360.5 L523.61,360.66 L524.3,360.79 L525,360.91 L525.69,361.01 L526.38,361.1 L527.07,361.17 L527.76,361.22 L528.45,361.26 L529.15,361.28 L529.84,361.3 L530.53,361.3 L531.22,361.28 L531.91,361.26 L532.6,361.23 L533.3,361.19 L533.99,361.14 L534.68,361.08 L535.37,361.01 L536.06,360.93 L536.75,360.84 L537.44,360.75 L538.14,360.65 L538.83,360.55 L539.52,360.44 L540.21,360.32 L540.9,360.2 L541.59,360.07 L542.29,359.93 L542.98,359.8 L543.67,359.65 L544.36,359.5 L545.05,359.35 L545.74,359.2 L546.43,359.04 L547.13,358.87 L547.82,358.71 L548.51,358.54 L549.2,358.36 L549.89,358.19 L550.58,358.01 L551.28,357.83 L551.97,357.64 L552.66,357.46 L553.35,357.27 L554.04,357.07 L554.73,356.88 L555.43,356.68 L556.12,356.49 L556.81,356.29 L557.5,356.09 L558.19,355.88 L558.88,355.68 L559.57,355.47 L560.27,355.27 L560.96,355.06 L561.65,354.85 L562.34,354.64 L563.03,354.42 L563.72,354.21 L564.42,354 L565.11,353.78 L565.8,353.56 L566.49,353.35 L567.18,353.13 L567.87,352.91 L568.57,352.69 L569.26,352.47 L569.95,352.25 L570.64,352.03 L571.33,351.81 L572.02,351.59 L572.71,351.36 L573.41,351.14 L574.1,350.92 L574.79,350.69 L575.48,350.47 L576.17,350.24 L576.86,350.02 L577.56,349.8 L578.25,349.57 L578.94,349.34 L579.63,349.12 L580.32,348.89 L581.01,348.67 L581.7,348.44 L582.4,348.22 L583.09,347.99 L583.78,347.77 L584.47,347.54 L585.16,347.31 L585.85,347.09 L586.55,346.86 L587.24,346.64 L587.93,346.41 L588.62,346.19 L589.31,345.96 L590,345.73 L590.7,345.51 L591.39,345.28 L592.08,345.06 L592.77,344.83 L593.46,344.61 L594.15,344.39 L594.84,344.16 L595.54,343.94 L596.23,343.71 L596.92,343.49 L597.61,343.27 L598.3,343.04 L598.99,342.82 L599.69,342.6 L600.38,342.38 L601.07,342.15 L601.76,341.93 L602.45,341.71 L603.14,341.49 L603.83,341.27 L604.53,341.05 L605.22,340.83 L605.91,340.6 L606.6,340.38 L607.29,340.16 L607.98,339.95 L608.68,339.73 L609.37,339.51 L610.06,339.29 L610.75,339.07 L611.44,338.85 L612.13,338.63 L612.83,338.42 L613.52,338.2 L614.21,337.98 L614.9,337.77 L615.59,337.55 L616.28,337.33 L616.97,337.12 L617.67,336.9 L618.36,336.69 L619.05,336.47 L619.74,336.26 L620.43,336.05 L621.12,335.83 L621.82,335.62 L622.51,335.41 L623.2,335.19 L623.89,334.98 L624.58,334.77 L625.27,334.56 L625.97,334.35 L626.66,334.14 L627.35,333.92 L628.04,333.71 L628.73,333.5 L629.42,333.29 L630.11,333.09 L630.81,332.88 L631.5,332.67 L632.19,332.46 L632.88,332.25 L633.57,332.04 L634.26,331.84 L634.96,331.63 L635.65,331.42 L636.34,331.22 L637.03,331.01 L637.72,330.8 L638.41,330.6 L639.1,330.39 L639.8,330.19 L640.49,329.98 L641.18,329.78 L641.87,329.57 L642.56,329.37 L643.25,329.17 L643.95,328.96 L644.64,328.76 L645.33,328.56 L646.02,328.36 L646.71,328.16 L647.4,327.95 L648.1,327.75 L648.79,327.55 L649.48,327.35 L650.17,327.15 L650.86,326.95 L651.55,326.75 L652.24,326.55 L652.94,326.35 L653.63,326.15 L654.32,325.96 L655.01,325.76 L655.7,325.56 L656.39,325.36 L657.09,325.16 L657.78,324.97 L658.47,324.77 L659.16,324.57 L659.85,324.38 L660.54,324.18 L661.23,323.99 L661.93,323.79 L662.62,323.6 L663.31,323.4 L664,323.21 L664.69,323.01 L665.38,322.82 L666.08,322.63 L666.77,322.43 L667.46,322.24 L668.15,322.05 L668.84,321.85 L669.53,321.66 L670.23,321.47 L670.92,321.28 L671.61,321.09 L672.3,320.89" fill="none" stroke="#000" stroke-width="1.9" stroke-linejoin="round" stroke-linecap="round"/>
<path d="M489.3,279.1 L489.39,280.29 L489.48,281.4 L489.57,282.47 L489.66,283.47 L489.75,284.43 L489.84,285.34 L489.93,286.21 L490.02,287.04 L490.11,287.84 L490.2,288.6 L490.29,289.34 L490.38,290.05 L490.47,290.74 L490.56,291.41 L490.65,292.05 L490.74,292.68 L490.83,293.29 L490.92,293.89 L491.01,294.48 L491.1,295.05 L491.19,295.61 L491.28,296.16 L491.37,296.7 L491.46,297.23 L491.55,297.76 L491.64,298.28 L491.73,298.79 L491.82,299.3 L491.91,299.8 L492,300.3 L492.09,300.8 L492.18,301.29 L492.27,301.78 L492.36,302.26 L492.45,302.75 L492.54,303.23 L492.63,303.7 L492.72,304.17 L492.81,304.64 L492.9,305.1 L492.99,305.56 L493.08,306.01 L493.17,306.45 L493.26,306.9 L493.35,307.34 L493.44,307.77 L493.53,308.2 L493.62,308.63 L493.71,309.06 L493.8,309.48 L493.89,309.89 L493.98,310.31 L494.07,310.72 L494.16,311.13 L494.25,311.53 L494.34,311.94 L494.43,312.33 L494.52,312.73 L494.61,313.12 L494.69,313.51 L494.78,313.9 L494.87,314.29 L494.96,314.67 L495.05,315.05 L495.14,315.43 L495.23,315.8 L495.32,316.17 L495.41,316.54 L495.5,316.91 L495.59,317.27 L495.68,317.64 L495.77,318 L495.86,318.35 L495.95,318.71 L496.04,319.06 L496.13,319.41 L496.22,319.76 L496.31,320.1 L496.4,320.45 L496.49,320.79 L496.58,321.13 L496.67,321.46 L496.76,321.8 L496.85,322.13 L496.94,322.46 L497.03,322.79 L497.12,323.11 L497.21,323.43 L497.3,323.75 L497.39,324.07 L497.48,324.39 L497.57,324.7 L497.66,325.02 L497.75,325.33 L497.84,325.64 L497.93,325.94 L498.02,326.25 L498.11,326.55 L498.2,326.85 L498.29,327.15 L498.38,327.44 L498.47,327.74 L498.56,328.03 L498.65,328.32 L498.74,328.61 L498.83,328.89 L498.92,329.18 L499.01,329.46 L499.1,329.74 L499.19,330.02 L499.28,330.29 L499.37,330.57 L499.46,330.84 L499.55,331.11 L499.64,331.38 L499.73,331.65 L499.82,331.91 L499.91,332.17 L500,332.44 L500.1,332.72 L500.79,334.66 L501.48,336.49 L502.17,338.22 L502.87,339.86 L503.56,341.41 L504.25,342.87 L504.94,344.25 L505.63,345.54 L506.32,346.76 L507.02,347.91 L507.71,348.99 L508.4,350 L509.09,350.95 L509.78,351.84 L510.47,352.67 L511.17,353.44 L511.86,354.17 L512.55,354.84 L513.24,355.47 L513.93,356.06 L514.62,356.6 L515.31,357.1 L516.01,357.56 L516.7,357.99 L517.39,358.38 L518.08,358.74 L518.77,359.07 L519.46,359.38 L520.16,359.65 L520.85,359.9 L521.54,360.12 L522.23,360.32 L522.92,360.5 L523.61,360.66 L524.3,360.79 L525,360.91 L525.69,361.01 L526.38,361.1 L527.07,361.17 L527.76,361.22 L528.45,361.26 L529.15,361.28 L529.84,361.3 L530.53,361.3 L531.22,361.28 L531.91,361.26 L532.6,361.23 L533.3,361.19 L533.99,361.14 L534.68,361.08 L535.37,361.01 L536.06,360.93 L536.75,360.84 L537.44,360.75 L538.14,360.65 L538.83,360.55 L539.52,360.44 L540.21,360.32 L540.9,360.2 L541.59,360.07 L542.29,359.93 L542.98,359.8 L543.67,359.65 L544.36,359.5 L545.05,359.35 L545.74,359.2 L546.43,359.04 L547.13,358.87 L547.82,358.71 L548.51,358.54 L549.2,358.36 L549.89,358.19 L550.58,358.01 L551.28,357.83 L551.97,357.64 L552.66,357.46 L553.35,357.27 L554.04,357.07 L554.73,356.88 L555.43,356.68 L556.12,356.49 L556.81,356.29 L557.5,356.09 L558.19,355.88 L558.88,355.68 L559.57,355.47 L560.27,355.27 L560.96,355.06 L561.65,354.85 L562.34,354.64 L563.03,354.42 L563.72,354.21 L564.42,354 L565.11,353.78 L565.8,353.56 L566.49,353.35 L567.18,353.13 L567.87,352.91 L568.57,352.69 L569.26,352.47 L569.95,352.25 L570.64,352.03 L571.33,351.81 L572.02,351.59 L572.71,351.36 L573.41,351.14 L574.1,350.92 L574.79,350.69 L575.48,350.47 L576.17,350.24 L576.86,350.02 L577.56,349.8 L578.25,349.57 L578.94,349.34 L579.63,349.12 L580.32,348.89 L581.01,348.67 L581.7,348.44 L582.4,348.22 L583.09,347.99 L583.78,347.77 L584.47,347.54 L585.16,347.31 L585.85,347.09 L586.55,346.86 L587.24,346.64 L587.93,346.41 L588.62,346.19 L589.31,345.96 L590,345.73 L590.7,345.51 L591.39,345.28 L592.08,345.06 L592.77,344.83 L593.46,344.61 L594.15,344.39 L594.84,344.16 L595.54,343.94 L596.23,343.71 L596.92,343.49 L597.61,343.27 L598.3,343.04 L598.99,342.82 L599.69,342.6 L600.38,342.38 L601.07,342.15 L601.76,341.93 L602.45,341.71 L603.14,341.49 L603.83,341.27 L604.53,341.05 L605.22,340.83 L605.91,340.6 L606.6,340.38 L607.29,340.16 L607.98,339.95 L608.68,339.73 L609.37,339.51 L610.06,339.29 L610.75,339.07 L611.44,338.85 L612.13,338.63 L612.83,338.42 L613.52,338.2 L614.21,337.98 L614.9,337.77 L615.59,337.55 L616.28,337.33 L616.97,337.12 L617.67,336.9 L618.36,336.69 L619.05,336.47 L619.74,336.26 L620.43,336.05 L621.12,335.83 L621.82,335.62 L622.51,335.41 L623.2,335.19 L623.89,334.98 L624.58,334.77 L625.27,334.56 L625.97,334.35 L626.66,334.14 L627.35,333.92 L628.04,333.71 L628.73,333.5 L629.42,333.29 L630.11,333.09 L630.81,332.88 L631.5,332.67 L632.19,332.46 L632.88,332.25 L633.57,332.04 L634.26,331.84 L634.96,331.63 L635.65,331.42 L636.34,331.22 L637.03,331.01 L637.72,330.8 L638.41,330.6 L639.1,330.39 L639.8,330.19 L640.49,329.98 L641.18,329.78 L641.87,329.57 L642.56,329.37 L643.25,329.17 L643.95,328.96 L644.64,328.76 L645.33,328.56 L646.02,328.36 L646.71,328.16 L647.4,327.95 L648.1,327.75 L648.79,327.55 L649.48,327.35 L650.17,327.15 L650.86,326.95 L651.55,326.75 L652.24,326.55 L652.94,326.35 L653.63,326.15 L654.32,325.96 L655.01,325.76 L655.7,325.56 L656.39,325.36 L657.09,325.16 L657.78,324.97 L658.47,324.77 L659.16,324.57 L659.85,324.38 L660.54,324.18 L661.23,323.99 L661.93,323.79 L662.62,323.6 L663.31,323.4 L664,323.21 L664.69,323.01 L665.38,322.82 L666.08,322.63 L666.77,322.43 L667.46,322.24 L668.15,322.05 L668.84,321.85 L669.53,321.66 L670.23,321.47 L670.92,321.28 L671.61,321.09 L672.3,320.89" fill="none" stroke="#000" stroke-width="1.9" stroke-dasharray="5.3 3.4" stroke-dashoffset="0.9"/>
<rect x="525.5" y="387" width="146.3" height="41.8" fill="none" stroke="#000" stroke-width="1"/>
<line x1="535.3" y1="401.2" x2="557.8" y2="401.2" stroke="#000" stroke-width="1.7" stroke-linecap="butt"/>
<line x1="535.3" y1="415.2" x2="557.8" y2="415.2" stroke="#000" stroke-width="1.7" stroke-linecap="butt" stroke-dasharray="5.2 3.4"/>
<text x="568.2" y="405.2" font-size="11.7" text-anchor="start">CI excludes 0</text>
<text x="568.2" y="419.2" font-size="11.7" text-anchor="start">CI excludes ROPE</text>
</svg>
</body></html>
